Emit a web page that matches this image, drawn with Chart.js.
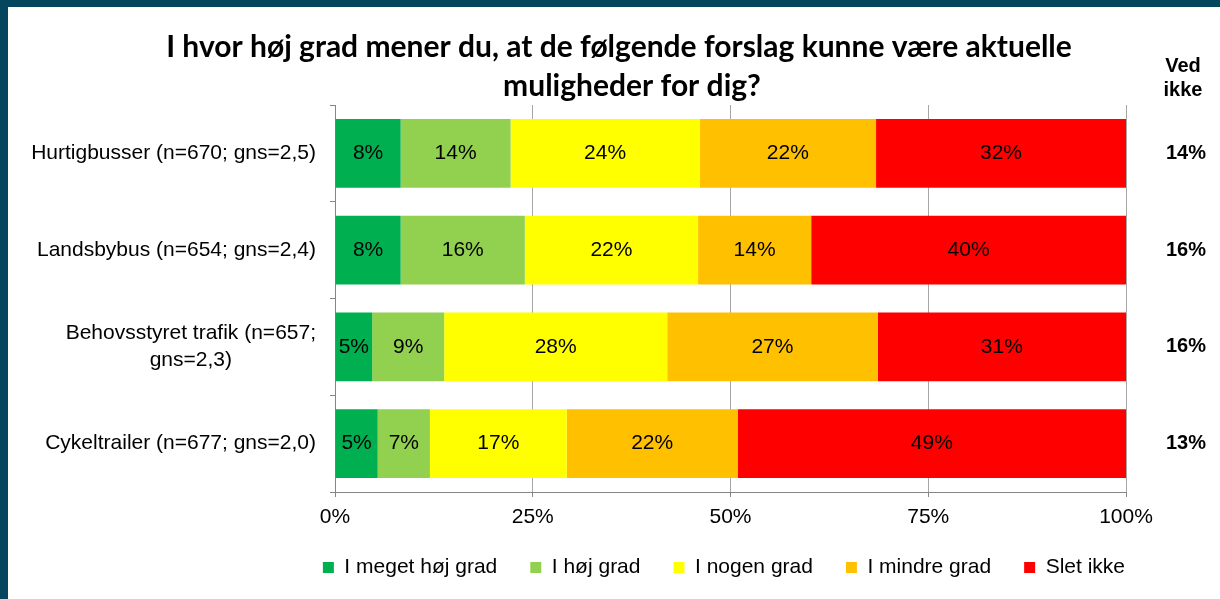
<!DOCTYPE html>
<html>
<head>
<meta charset="utf-8">
<script src="https://cdn.jsdelivr.net/npm/chart.js@4.4.1/dist/chart.umd.min.js"></script>
<style>
  html, body { margin: 0; padding: 0; background: #fff; }
  #wrap { position: relative; width: 1220px; height: 599px; overflow: hidden; }
  #wrap canvas { position: absolute; left: 0; top: 0; }
  .edge { position: absolute; background: #03465e; }
</style>
</head>
<body>
<div id="wrap">
  <canvas id="chart" width="1220" height="599"></canvas>
  <div class="edge" style="left:0;top:0;width:1220px;height:7px"></div>
  <div class="edge" style="left:0;top:0;width:8px;height:599px"></div>
</div>
<script>
  var titleLines = ['I hvor høj grad mener du, at de følgende forslag kunne være aktuelle', 'muligheder for dig?'];
  var categories = [
    ['Hurtigbusser (n=670; gns=2,5)'],
    ['Landsbybus (n=654; gns=2,4)'],
    ['Behovsstyret trafik (n=657;', 'gns=2,3)'],
    ['Cykeltrailer (n=677; gns=2,0)']
  ];
  var seriesNames = ['I meget høj grad', 'I høj grad', 'I nogen grad', 'I mindre grad', 'Slet ikke'];
  var seriesColors = ['#00b050', '#92d050', '#ffff00', '#ffc000', '#ff0000'];

  // percent of those who answered (rows sum to 100)
  var megetHoej = [8.3, 8.3, 4.7, 5.4];
  var hoej = [13.9, 15.7, 9.1, 6.6];
  var nogen = [23.9, 21.9, 28.2, 17.3];
  var mindre = [22.3, 14.3, 26.6, 21.6];
  var sletIkke = [31.6, 39.8, 31.4, 49.1];

  var vedIkkeHeader = ['Ved', 'ikke'];
  var vedIkke = [14, 16, 16, 13];

  var xTicks = [0, 25, 50, 75, 100];

  var FONT = '"Liberation Sans", Arial, sans-serif';

  var seriesValues = [megetHoej, hoej, nogen, mindre, sletIkke];
  var datasets = seriesNames.map(function(name, i) {
    return {
      label: name,
      data: seriesValues[i],
      backgroundColor: seriesColors[i],
      borderWidth: 0,
      barPercentage: 0.713,
      categoryPercentage: 1
    };
  });

  var barLabels = {
    id: 'barLabels',
    afterDatasetsDraw: function(chart) {
      var ctx = chart.ctx;
      ctx.save();
      ctx.font = '21px ' + FONT;
      ctx.fillStyle = '#000';
      ctx.textAlign = 'center';
      ctx.textBaseline = 'middle';
      chart.data.datasets.forEach(function(ds, i) {
        chart.getDatasetMeta(i).data.forEach(function(bar, j) {
          var p = bar.getCenterPoint();
          ctx.fillText(Math.round(ds.data[j]) + '%', p.x, p.y);
        });
      });
      ctx.restore();
    }
  };

  var sideText = {
    id: 'sideText',
    afterDraw: function(chart) {
      var ctx = chart.ctx;
      var area = chart.chartArea;
      var yScale = chart.scales.y;
      ctx.save();

      // title
      ctx.fillStyle = '#000';
      ctx.textAlign = 'center';
      ctx.textBaseline = 'alphabetic';
      ctx.font = 'bold 30px Lato, "Open Sans", sans-serif';
      ctx.fillText(titleLines[0], 619, 57);
      ctx.fillText(titleLines[1], 632, 96);

      // category labels, right edge just left of the axis ticks
      ctx.font = '21px ' + FONT;
      ctx.textBaseline = 'middle';
      var right = area.left - 19;
      categories.forEach(function(lines, i) {
        var cy = yScale.getPixelForValue(i);
        var w = 0;
        lines.forEach(function(l) { w = Math.max(w, ctx.measureText(l).width); });
        var cx = right - w / 2;
        var lh = 26.5;
        lines.forEach(function(l, k) {
          ctx.fillText(l, cx, cy + (k - (lines.length - 1) / 2) * lh);
        });
      });

      // "Ved ikke" column
      ctx.font = 'bold 20px ' + FONT;
      ctx.textBaseline = 'alphabetic';
      ctx.fillText(vedIkkeHeader[0], area.right + 57, 72);
      ctx.fillText(vedIkkeHeader[1], area.right + 57, 96);
      ctx.textBaseline = 'middle';
      vedIkke.forEach(function(v, i) {
        ctx.fillText(v + '%', area.right + 60, yScale.getPixelForValue(i));
      });
      ctx.restore();
    }
  };

  new Chart(document.getElementById('chart').getContext('2d'), {
    type: 'bar',
    data: { labels: categories, datasets: datasets },
    options: {
      indexAxis: 'y',
      responsive: false,
      animation: false,
      devicePixelRatio: 1,
      layout: { padding: { left: 0, right: 62, top: 105, bottom: 11 } },
      scales: {
        x: {
          stacked: true,
          min: 0,
          max: 100,
          afterBuildTicks: function(s) { s.ticks = xTicks.map(function(v) { return { value: v }; }); },
          // leave room on the right for the "Ved ikke" column
          afterFit: function(s) { s.height = 32; s.paddingLeft = 0; s.paddingRight = 94; },
          ticks: {
            callback: function(v) { return v + '%'; },
            color: '#000',
            font: { family: FONT, size: 21 },
            padding: 8,
            maxRotation: 0
          },
          grid: { color: '#a6a6a6', tickColor: '#868686', tickLength: 5 },
          border: { color: '#868686' }
        },
        y: {
          stacked: true,
          ticks: { display: false },
          afterFit: function(s) { s.width = 335; },
          grid: { drawOnChartArea: false, offset: true, tickLength: 5, color: '#868686' },
          border: { color: '#868686' }
        }
      },
      plugins: {
        title: { display: false },
        tooltip: { enabled: false },
        legend: {
          position: 'bottom',
          align: 'end',
          labels: {
            boxWidth: 11,
            boxHeight: 11,
            padding: 33,
            color: '#000',
            font: { family: FONT, size: 21 }
          }
        }
      }
    },
    plugins: [barLabels, sideText]
  });
</script>
</body>
</html>
